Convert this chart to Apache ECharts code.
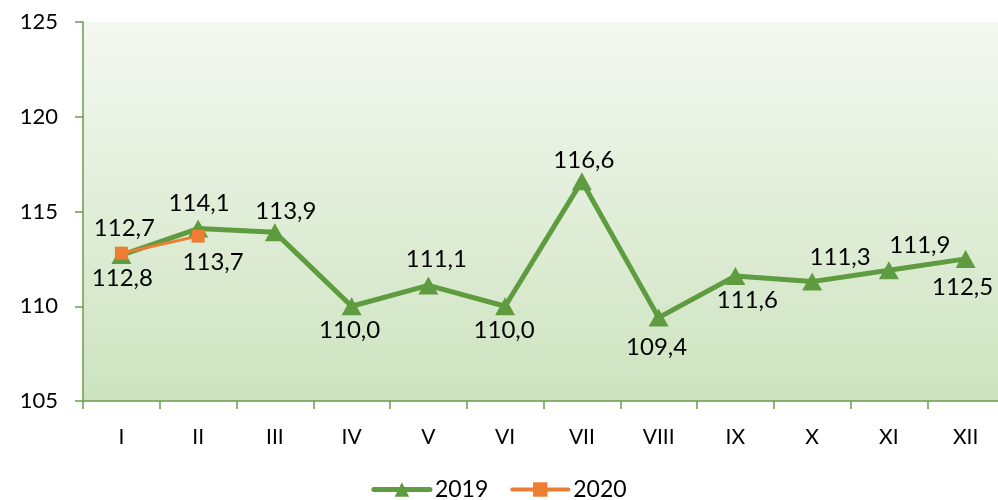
<!DOCTYPE html>
<html><head><meta charset="utf-8">
<script src="https://cdn.jsdelivr.net/npm/echarts@6/dist/echarts.min.js"></script>
<style>html,body{margin:0;padding:0;background:#fff}#c{width:998px;height:500px}</style>
</head><body><div id="c"></div>
<script>
const categories = ['I','II','III','IV','V','VI','VII','VIII','IX','X','XI','XII'];
const values2019 = [112.7,114.1,113.9,110.0,111.1,110.0,116.6,109.4,111.6,111.3,111.9,112.5];
const values2020 = [112.8,113.7];
const seriesNames = ['2019','2020'];
// label offsets (style only)
const off2019 = [[3,-27],[1,-25],[11,-21],[-2,24],[8,-26],[-1,24],[2,-21],[-2,30],[12,24],[28,-24],[31,-25],[-3,28]];
const off2020 = [[1,25],[15,26]];

const fmt = v => v.toFixed(1).replace('.', ',');
const font = 'Lato, "Open Sans", sans-serif';
function build(vals, offs){
  return vals.map((v,i)=>({value:v,label:{offset:offs[i]}}));
}
const chart = echarts.init(document.getElementById('c'));
chart.setOption({
  animation:false,
  textStyle:{fontFamily:font},
  grid:{left:83,width:921,top:22,height:379,show:true,borderWidth:0,containLabel:false,outerBoundsMode:'none',
    backgroundColor:new echarts.graphic.LinearGradient(0,0,0,1,[{offset:0,color:'#f4f8f1'},{offset:1,color:'#cde3bf'}])},
  legend:{bottom:-6,left:'center',itemWidth:56,itemHeight:18,itemGap:22,
    lineStyle:{width:5,cap:'round'},
    textStyle:{fontSize:23,color:'#000',fontFamily:font},
    data:[{name:seriesNames[0],lineStyle:{width:5,cap:'round'}},{name:seriesNames[1],lineStyle:{width:4,cap:'round'}}]},
  xAxis:{type:'category',data:categories,boundaryGap:true,
    axisLine:{lineStyle:{color:'#6a9c4c',width:1.5}},
    axisTick:{show:true,length:8,alignWithLabel:false,lineStyle:{color:'#6a9c4c',width:1.5}},
    axisLabel:{fontSize:21,color:'#000',margin:26,fontFamily:font}},
  yAxis:{type:'value',min:105,max:125,interval:5,
    axisLine:{show:true,lineStyle:{color:'#6a9c4c',width:1.5}},
    axisTick:{show:true,length:8,lineStyle:{color:'#6a9c4c',width:1.5}},
    splitLine:{show:false},
    axisLabel:{fontSize:22,color:'#000',margin:25,fontFamily:font}},
  series:[
    {name:seriesNames[0],type:'line',data:build(values2019,off2019),
     symbol:'triangle',symbolSize:[20,18],z:2,
     itemStyle:{color:'#5f9b3f'},lineStyle:{color:'#5f9b3f',width:5},
     label:{show:true,position:'inside',fontSize:24,color:'#000',fontFamily:font,formatter:p=>fmt(p.value)}},
    {name:seriesNames[1],type:'line',data:build(values2020,off2020),
     symbol:'rect',symbolSize:13,z:3,
     itemStyle:{color:'#ed7d31'},lineStyle:{color:'#ed7d31',width:3},
     label:{show:true,position:'inside',fontSize:24,color:'#000',fontFamily:font,formatter:p=>fmt(p.value)}}
  ]
});
</script></body></html>
